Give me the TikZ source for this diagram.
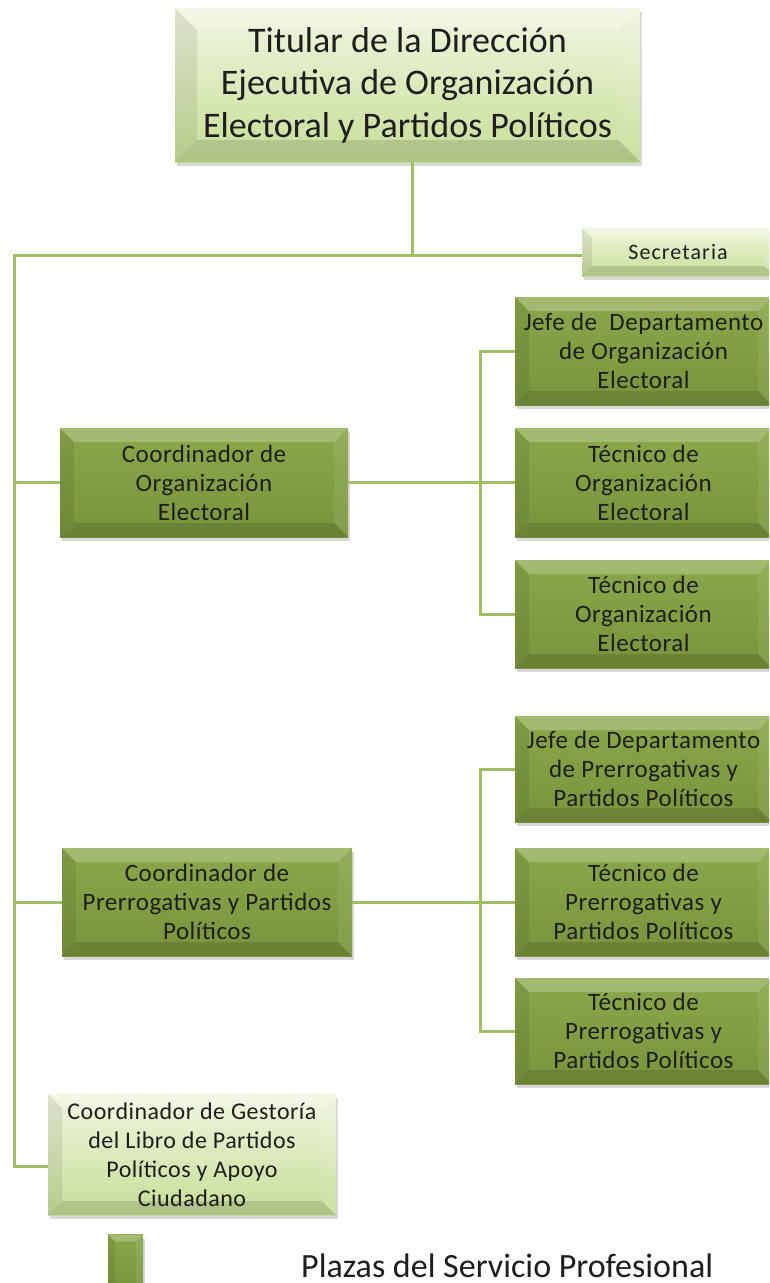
\documentclass[tikz,border=0pt]{standalone}
\usepackage{fontspec}
\setmainfont{Carlito}
\usetikzlibrary{shadows}
\definecolor{lnc}{RGB}{160,190,100}
\definecolor{dk}{RGB}{120,148,60}
\definecolor{dkt}{RGB}{138,168,74}
\definecolor{ltt}{RGB}{240,246,224}
\definecolor{ltb}{RGB}{198,222,150}
\definecolor{txt}{RGB}{30,30,30}
\newfontfamily\boxfont[LetterSpace=2]{Carlito}
\newfontfamily\secfont[LetterSpace=5]{Carlito}
\tikzset{
  bev/.style={path picture={
    \coordinate (pnw) at (path picture bounding box.north west);
    \coordinate (pne) at (path picture bounding box.north east);
    \coordinate (psw) at (path picture bounding box.south west);
    \coordinate (pse) at (path picture bounding box.south east);
    \fill[white,opacity=0.22] (pnw) -- (pne) -- ([xshift=-#1,yshift=-#1]pne) -- ([xshift=#1,yshift=-#1]pnw) -- cycle;
    \fill[black,opacity=0.08] (pnw) -- ([xshift=#1,yshift=-#1]pnw) -- ([xshift=#1,yshift=#1]psw) -- (psw) -- cycle;
    \fill[white,opacity=0.08] (pne) -- (pse) -- ([xshift=-#1,yshift=#1]pse) -- ([xshift=-#1,yshift=-#1]pne) -- cycle;
    \fill[black,opacity=0.12] (psw) -- (pse) -- ([xshift=-#1,yshift=#1]pse) -- ([xshift=#1,yshift=#1]psw) -- cycle;
  }},
  basebox/.style={rectangle, inner sep=0pt, align=center, text=txt,
    drop shadow={opacity=0.3, shadow xshift=2pt, shadow yshift=-4pt}},
  darkbox/.style={basebox, top color=dkt, bottom color=dk, bev=14pt,
    font=\boxfont\fontsize{25}{29}\selectfont},
  lightbox/.style={basebox, top color=ltt, bottom color=ltb, bev=14pt,
    font=\boxfont\fontsize{25}{29}\selectfont},
  conn/.style={draw=lnc, line width=3pt}
}
\begin{document}
\begin{tikzpicture}[x=1pt,y=-1pt]
\clip (0,0) rectangle (769,1283);
\fill[white] (0,0) rectangle (769,1283);
% nodes
\node[lightbox, bev=22pt, minimum width=465pt, minimum height=154pt, font=\fontsize{36}{42.5}\selectfont] (title) at (407.5,85) {Titular de la Dirección\\Ejecutiva de Organización\\Electoral y Partidos Políticos};
\node[lightbox, bev=10pt, minimum width=192pt, minimum height=48pt, font=\secfont\fontsize{22}{24}\selectfont] (sec) at (678,252) {Secretaria};
\node[darkbox, minimum width=257pt, minimum height=108pt] (jefeo) at (643.5,351) {Jefe de\ \ Departamento\\de Organización\\Electoral};
\node[darkbox, minimum width=288pt, minimum height=109pt] (coordo) at (204,482.5) {Coordinador de\\Organización\\Electoral};
\node[darkbox, minimum width=257pt, minimum height=109pt] (teco1) at (643.5,482.5) {Técnico de\\Organización\\Electoral};
\node[darkbox, minimum width=257pt, minimum height=108pt] (teco2) at (643.5,614) {Técnico de\\Organización\\Electoral};
\node[darkbox, minimum width=257pt, minimum height=106pt] (jefep) at (643.5,769) {Jefe de Departamento\\de Prerrogativas y\\Partidos Políticos};
\node[darkbox, minimum width=290pt, minimum height=108pt] (coordp) at (207,902) {Coordinador de\\Prerrogativas y Partidos\\Políticos};
\node[darkbox, minimum width=257pt, minimum height=108pt] (tecp1) at (643.5,902) {Técnico de\\Prerrogativas y\\Partidos Políticos};
\node[darkbox, minimum width=257pt, minimum height=106pt] (tecp2) at (643.5,1031) {Técnico de\\Prerrogativas y\\Partidos Políticos};
\node[lightbox, minimum width=288pt, minimum height=121pt, font=\boxfont\fontsize{24}{29}\selectfont] (gest) at (192,1154.5) {Coordinador de Gestoría\\del Libro de Partidos\\Políticos y Apoyo\\Ciudadano};
\node[darkbox, bev=7pt, minimum width=35pt, minimum height=55pt] (leg) at (125.5,1262) {};
\node[font=\fontsize{34}{40}\selectfont, text=txt, anchor=base west, inner sep=0pt] (legt) at (301,1277) {Plazas del Servicio Profesional};
% connectors
\coordinate (j) at (412,255);
\coordinate (tl) at (14,255);
\coordinate (bx) at (480,0);
\begin{scope}[on background layer/.try]
\draw[conn] (title.south -| j) -- (j) -- (sec.west |- j);
\draw[conn] (j) -- (tl) |- ([yshift=-12pt]gest.west);
\draw[conn] (tl |- coordo.west) -- (coordo.west);
\draw[conn] (tl |- coordp.west) -- (coordp.west);
\draw[conn] (coordo.east) -- (teco1.west);
\draw[conn] (coordp.east) -- (tecp1.west);
\draw[conn] (jefeo.west) -| (bx |- teco2.west) -- (teco2.west);
\draw[conn] (jefep.west) -| (bx |- tecp2.west) -- (tecp2.west);
\end{scope}
\end{tikzpicture}
\end{document}
